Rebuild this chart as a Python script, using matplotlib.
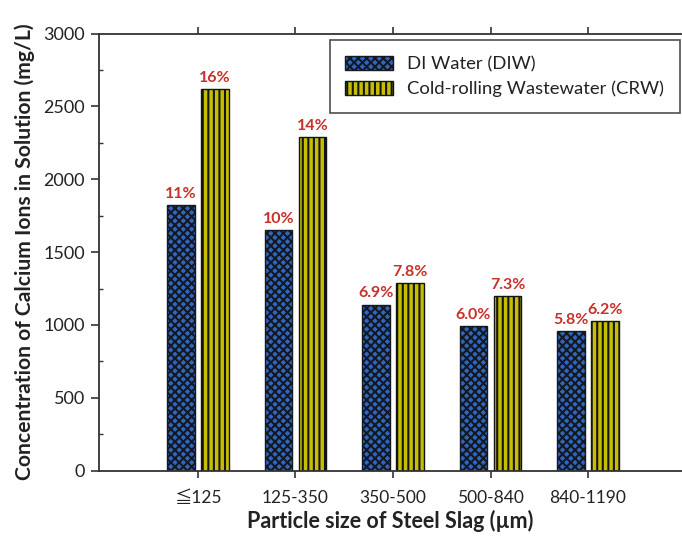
import matplotlib
matplotlib.use("Agg")
import matplotlib.pyplot as plt
import matplotlib.ticker as mticker
import numpy as np

plt.rcParams['font.family'] = ['Lato', 'Noto Sans CJK JP', 'DejaVu Sans']
plt.rcParams['hatch.linewidth'] = 1.5

# data
sizes = ['≦125', '125-350', '350-500', '500-840', '840-1190']
diw = [1820, 1650, 1140, 995, 960]
crw = [2620, 2290, 1285, 1200, 1025]
diw_pct = ['11%', '10%', '6.9%', '6.0%', '5.8%']
crw_pct = ['16%', '14%', '7.8%', '7.3%', '6.2%']

fig = plt.figure(figsize=(6.82, 5.36), dpi=100)
ax = fig.add_axes([0.1452, 0.1218, 0.8548, 0.8157])

x = np.arange(len(sizes))
w = 0.283
off = 0.174

b1 = ax.bar(x - off, diw, w, facecolor='#2f66c0', edgecolor='#141820',
            hatch='xxxx', linewidth=1.0, label='DI Water (DIW)')
b2 = ax.bar(x + off, crw, w, facecolor='#c6bf00', edgecolor='#141414',
            hatch='|||', linewidth=1.0, label='Cold-rolling Wastewater (CRW)')

red = '#c8302a'
for xi, v, t in zip(x - off, diw, diw_pct):
    ax.annotate(t, (xi, v), xytext=(0, 3), textcoords='offset points',
                ha='center', va='bottom', color=red, fontsize=11.5,
                fontweight='bold')
for xi, v, t in zip(x + off, crw, crw_pct):
    ax.annotate(t, (xi, v), xytext=(0, 3), textcoords='offset points',
                ha='center', va='bottom', color=red, fontsize=11.5,
                fontweight='bold')

ax.set_xlim(-1.015, 4.964)
ax.set_ylim(0, 3000)
ax.yaxis.set_major_locator(mticker.MultipleLocator(500))
ax.yaxis.set_minor_locator(mticker.MultipleLocator(250))

ax.set_xticks(x)
ax.set_xticklabels(sizes)

spine_c = '#333333'
for s in ['left', 'bottom', 'top']:
    ax.spines[s].set_color(spine_c)
    ax.spines[s].set_linewidth(1.3)
ax.spines['right'].set_visible(False)

ax.tick_params(axis='y', which='major', direction='out', length=6,
               width=1.2, color=spine_c, labelsize=13, labelcolor='#222222',
               pad=4)
ax.tick_params(axis='y', which='minor', direction='in', length=3,
               width=1.0, color=spine_c)
ax.tick_params(axis='x', which='major', direction='out', length=5,
               width=1.2, color=spine_c, labelsize=12.5, labelcolor='#222222',
               pad=9, top=True)

ax.set_xlabel('Particle size of Steel Slag (µm)', fontsize=15.5,
              fontweight='bold', color='#222222', labelpad=3)
ax.set_ylabel('Concentration of Calcium Ions in Solution (mg/L)',
              fontsize=15.2, fontweight='bold', color='#222222', labelpad=6)

leg = ax.legend(loc='upper right', bbox_to_anchor=(0.9966, 0.985),
                fontsize=13.3, frameon=True, fancybox=False,
                edgecolor='#222222', handlelength=2.6, handleheight=0.8,
                borderpad=0.85, labelspacing=0.45, handletextpad=0.75,
                borderaxespad=0)
leg.get_frame().set_linewidth(1.2)
for t in leg.get_texts():
    t.set_color('#222222')

fig.savefig('out.png', dpi=100)
